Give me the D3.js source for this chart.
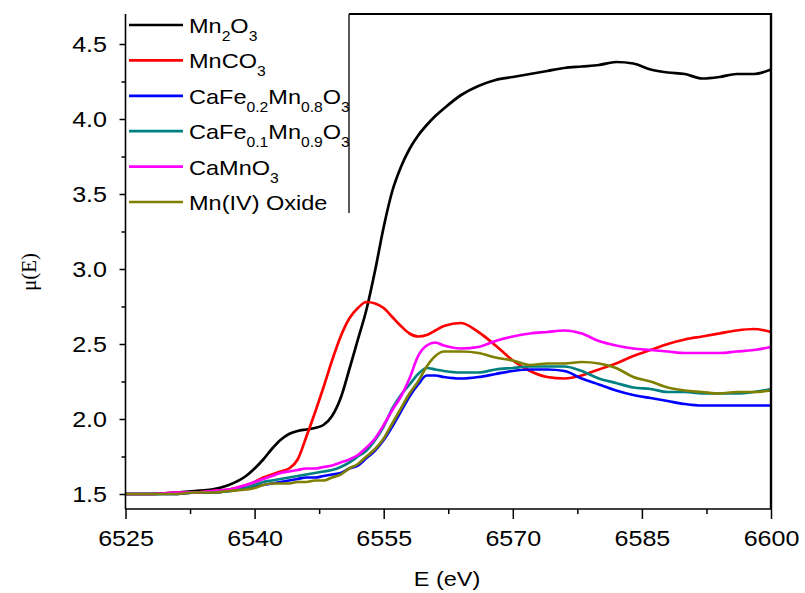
<!DOCTYPE html>
<html>
<head>
<meta charset="utf-8">
<script src="https://cdn.jsdelivr.net/npm/d3@7"></script>
<style>
  html, body { margin: 0; padding: 0; background: #fff; }
  svg { display: block; }
  text { font-family: "Liberation Sans", Arial, sans-serif; fill: #000; }
</style>
</head>
<body>
<svg id="chart" width="805" height="593"></svg>
<script>
// Photon energy grid (eV) shared by every spectrum
const energy = [6525, 6528, 6531, 6533, 6535, 6537, 6539, 6540, 6541, 6542, 6543, 6544, 6545, 6546,
  6547, 6548, 6549, 6550, 6551, 6552, 6553, 6554, 6555, 6556, 6557, 6558, 6559, 6560, 6561, 6562,
  6564, 6566, 6568, 6570, 6572, 6574, 6576, 6578, 6580, 6582, 6584, 6586, 6588, 6590, 6592, 6594,
  6596, 6598, 6600];

// Normalised absorption mu(E) for each sample
const mn2o3 = [1.50, 1.50, 1.51, 1.52, 1.53, 1.56, 1.62, 1.67, 1.73, 1.80, 1.86, 1.90, 1.92, 1.93,
  1.94, 1.96, 2.02, 2.14, 2.33, 2.53, 2.73, 2.99, 3.28, 3.52, 3.68, 3.80, 3.89, 3.96, 4.02, 4.07,
  4.16, 4.22, 4.26, 4.28, 4.30, 4.32, 4.34, 4.35, 4.36, 4.38, 4.37, 4.33, 4.31, 4.30, 4.27, 4.28,
  4.30, 4.30, 4.33];
const mnco3 = [1.50, 1.50, 1.51, 1.51, 1.52, 1.53, 1.56, 1.58, 1.61, 1.63, 1.65, 1.67, 1.73, 1.88,
  2.04, 2.21, 2.39, 2.55, 2.67, 2.74, 2.78, 2.77, 2.74, 2.68, 2.62, 2.57, 2.55, 2.56, 2.59, 2.62,
  2.64, 2.58, 2.49, 2.39, 2.32, 2.28, 2.27, 2.29, 2.33, 2.37, 2.42, 2.46, 2.50, 2.53, 2.55, 2.57,
  2.59, 2.60, 2.58];
const cafe02 = [1.50, 1.50, 1.50, 1.51, 1.51, 1.52, 1.54, 1.55, 1.56, 1.57, 1.58, 1.59, 1.60, 1.61,
  1.61, 1.62, 1.63, 1.64, 1.67, 1.69, 1.74, 1.79, 1.86, 1.95, 2.05, 2.15, 2.23, 2.29, 2.29, 2.28,
  2.27, 2.28, 2.30, 2.32, 2.33, 2.33, 2.32, 2.27, 2.23, 2.19, 2.16, 2.14, 2.12, 2.10, 2.09, 2.09,
  2.09, 2.09, 2.09];
const cafe01 = [1.50, 1.50, 1.50, 1.51, 1.51, 1.52, 1.54, 1.56, 1.58, 1.59, 1.60, 1.61, 1.62, 1.63,
  1.64, 1.65, 1.66, 1.68, 1.71, 1.75, 1.79, 1.86, 1.95, 2.07, 2.16, 2.23, 2.30, 2.34, 2.33, 2.32,
  2.31, 2.31, 2.33, 2.34, 2.35, 2.35, 2.35, 2.32, 2.27, 2.24, 2.21, 2.20, 2.18, 2.18, 2.17, 2.17,
  2.17, 2.18, 2.20];
const camno3 = [1.50, 1.50, 1.51, 1.51, 1.52, 1.53, 1.56, 1.58, 1.60, 1.62, 1.64, 1.65, 1.66, 1.67,
  1.67, 1.68, 1.69, 1.71, 1.73, 1.76, 1.81, 1.87, 1.96, 2.06, 2.15, 2.27, 2.42, 2.49, 2.51, 2.49,
  2.47, 2.48, 2.52, 2.55, 2.57, 2.58, 2.59, 2.57, 2.52, 2.49, 2.47, 2.46, 2.45, 2.44, 2.44, 2.44,
  2.45, 2.46, 2.48];
const mnIVoxide = [1.50, 1.50, 1.50, 1.51, 1.51, 1.52, 1.53, 1.54, 1.56, 1.57, 1.57, 1.57, 1.58, 1.58,
  1.59, 1.59, 1.61, 1.63, 1.67, 1.70, 1.75, 1.80, 1.87, 1.97, 2.07, 2.17, 2.25, 2.35, 2.42, 2.45,
  2.45, 2.44, 2.41, 2.39, 2.36, 2.37, 2.37, 2.38, 2.37, 2.34, 2.28, 2.25, 2.21, 2.19, 2.18, 2.17,
  2.18, 2.18, 2.19];

// Legend names: [text, kind] pieces, kind "sub" for subscripts
const seriesNames = [
  [["Mn", ""], ["2", "sub"], ["O", ""], ["3", "sub"]],
  [["MnCO", ""], ["3", "sub"]],
  [["CaFe", ""], ["0.2", "sub"], ["Mn", ""], ["0.8", "sub"], ["O", ""], ["3", "sub"]],
  [["CaFe", ""], ["0.1", "sub"], ["Mn", ""], ["0.9", "sub"], ["O", ""], ["3", "sub"]],
  [["CaMnO", ""], ["3", "sub"]],
  [["Mn(IV) Oxide", ""]]
];
const seriesValues = [mn2o3, mnco3, cafe02, cafe01, camno3, mnIVoxide];
const seriesColors = ["#000000", "#ff0000", "#0000ff", "#008080", "#ff00ff", "#808000"];

const xTicks = [6525, 6540, 6555, 6570, 6585, 6600];
const xMinor = [6532.5, 6547.5, 6562.5, 6577.5, 6592.5];
const yTicks = [1.5, 2.0, 2.5, 3.0, 3.5, 4.0, 4.5];
const yMinor = [1.75, 2.25, 2.75, 3.25, 3.75, 4.25];

(function draw() {
  const svg = d3.select("#chart");
  const pL = 125.5, pR = 771, pT = 14, pB = 509;
  const sx = 1.14; // horizontal stretch of lettering

  const x = d3.scaleLinear().domain([6525, 6600]).range([pL, pR]);
  const y = d3.scaleLinear().domain([1.4, 4.7]).range([pB, pT]);

  // Spectra
  const line = d3.line()
    .x(d => x(d[0]))
    .y(d => y(d[1]))
    .curve(d3.curveMonotoneX);

  seriesValues.forEach((vals, i) => {
    svg.append("path")
      .datum(energy.map((e, j) => [e, vals[j]]))
      .attr("fill", "none")
      .attr("stroke", seriesColors[i])
      .attr("stroke-width", 2.7)
      .attr("stroke-linejoin", "round")
      .attr("d", line);
  });

  // Bottom axis
  const gx = svg.append("g").attr("transform", `translate(0,${pB})`);
  gx.call(d3.axisBottom(x).tickValues(xTicks).tickSize(10).tickSizeOuter(0).tickFormat(d3.format("d")));
  gx.select(".domain").remove();
  gx.selectAll(".tick line").attr("stroke-width", 1.5);
  gx.selectAll(".tick text")
    .attr("y", 0).attr("dy", 0)
    .attr("transform", `translate(0,37) scale(${sx},1)`)
    .style("font-size", "22px")
    .style("font-family", "'Liberation Sans', Arial, sans-serif");
  const gxm = svg.append("g").attr("transform", `translate(0,${pB})`);
  gxm.call(d3.axisBottom(x).tickValues(xMinor).tickSize(5).tickSizeOuter(0).tickFormat(""));
  gxm.select(".domain").remove();
  gxm.selectAll(".tick line").attr("stroke-width", 1.5);

  // Left axis
  const gy = svg.append("g").attr("transform", `translate(${pL},0)`);
  gy.call(d3.axisLeft(y).tickValues(yTicks).tickSize(6).tickSizeOuter(0).tickFormat(d3.format(".1f")));
  gy.select(".domain").remove();
  gy.selectAll(".tick line").attr("stroke-width", 1.5);
  gy.selectAll(".tick text")
    .attr("x", 0).attr("dy", "0.36em")
    .attr("transform", `translate(-18.5,0) scale(${sx},1)`)
    .style("font-size", "22px")
    .style("font-family", "'Liberation Sans', Arial, sans-serif");
  const gym = svg.append("g").attr("transform", `translate(${pL},0)`);
  gym.call(d3.axisLeft(y).tickValues(yMinor).tickSize(4).tickSizeOuter(0).tickFormat(""));
  gym.select(".domain").remove();
  gym.selectAll(".tick line").attr("stroke-width", 1.5);

  // Legend box (white, drawn over the frame corner)
  const legX1 = 349, legY1 = 213;
  svg.append("rect")
    .attr("x", pL).attr("y", 0)
    .attr("width", legX1 - pL).attr("height", legY1)
    .attr("fill", "#fff");
  svg.append("line")
    .attr("x1", legX1).attr("x2", legX1)
    .attr("y1", pT).attr("y2", legY1)
    .attr("stroke", "#000").attr("stroke-width", 1.3);

  // Frame lines
  svg.append("line").attr("x1", pL).attr("x2", pL).attr("y1", pT).attr("y2", pB)
    .attr("stroke", "#000").attr("stroke-width", 1.6);
  svg.append("line").attr("x1", pL).attr("x2", pR + 1).attr("y1", pB).attr("y2", pB)
    .attr("stroke", "#000").attr("stroke-width", 1.6);
  svg.append("line").attr("x1", pR).attr("x2", pR).attr("y1", pT - 1).attr("y2", pB)
    .attr("stroke", "#000").attr("stroke-width", 2.4);
  svg.append("line").attr("x1", legX1).attr("x2", pR + 1).attr("y1", pT).attr("y2", pT)
    .attr("stroke", "#000").attr("stroke-width", 2);

  // Legend entries
  const legendRow = d3.scaleLinear().domain([0, 5]).range([25, 202]);
  seriesNames.forEach((parts, i) => {
    const cy = legendRow(i);
    svg.append("line")
      .attr("x1", 129).attr("x2", 183)
      .attr("y1", cy).attr("y2", cy)
      .attr("stroke", seriesColors[i]).attr("stroke-width", 2.7);
    const t = svg.append("text")
      .attr("transform", `translate(189,${cy + 8}) scale(1.12,1)`)
      .style("font-size", "21px");
    parts.forEach(([s, kind], k) => {
      const prev = k > 0 ? parts[k - 1][1] : "";
      const ts = t.append("tspan").text(s);
      if (kind === "sub") {
        ts.style("font-size", "14px").attr("dy", prev === "sub" ? 0 : 8);
      } else if (prev === "sub") {
        ts.attr("dy", -8);
      }
    });
  });

  // Axis titles
  svg.append("text")
    .attr("transform", "translate(447,586) scale(1.12,1)")
    .attr("text-anchor", "middle")
    .style("font-size", "21px")
    .text("E (eV)");
  svg.append("text")
    .attr("transform", "translate(36,272) rotate(-90)")
    .attr("text-anchor", "middle")
    .style("font-family", "'Liberation Serif', 'Times New Roman', serif")
    .style("font-size", "21px")
    .text("μ(E)");
})();
</script>
</body>
</html>
